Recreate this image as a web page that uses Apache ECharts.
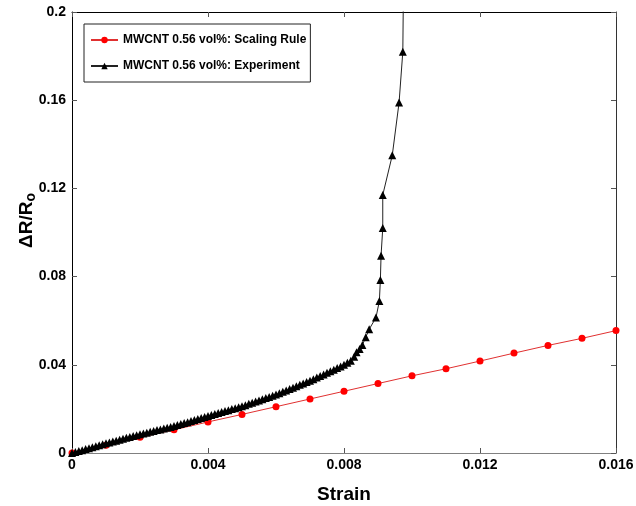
<!DOCTYPE html>
<html><head><meta charset="utf-8">
<script src="https://cdn.jsdelivr.net/npm/echarts@6/dist/echarts.min.js"></script>
<style>html,body{margin:0;padding:0;background:#fff}#c{width:636px;height:506px}</style>
</head><body><div id="c"></div>
<script>
const xTicks = ['0','0.004','0.008','0.012','0.016'];
const yTicks = ['0','0.04','0.08','0.12','0.16','0.2'];
const ruleStrain = [0,0.001,0.002,0.003,0.004,0.005,0.006,0.007,0.008,0.009,0.010,0.011,0.012,0.013,0.014,0.015,0.016];
const ruleDR = [0,0.0035,0.0071,0.0105,0.0141,0.0175,0.021,0.0245,0.028,0.0315,0.035,0.0382,0.0417,0.0453,0.0488,0.052,0.0555];
const expStrain = [0,0.0001,0.0002,0.0003,0.0004,0.0005,0.0006,0.0007,0.0008,0.0009,0.001,
0.0011,0.0012,0.0013,0.0014,0.0015,0.0016,0.0017,0.0018,0.0019,0.002,
0.0021,0.0022,0.0023,0.0024,0.0025,0.0026,0.0027,0.0028,0.0029,0.003,
0.0031,0.0032,0.0033,0.0034,0.0035,0.0036,0.0037,0.0038,0.0039,0.004,
0.0041,0.0042,0.0043,0.0044,0.0045,0.0046,0.0047,0.0048,0.0049,0.005,
0.0051,0.0052,0.0053,0.0054,0.0055,0.0056,0.0057,0.0058,0.0059,0.006,
0.0061,0.0062,0.0063,0.0064,0.0065,0.0066,0.0067,0.0068,0.0069,0.007,
0.0071,0.0072,0.0073,0.0074,0.0075,0.0076,0.0077,0.0078,0.0079,0.008,
0.0081,0.0082,0.0083,0.00837,0.00846,0.00854,0.00864,0.00874,0.00894,0.00904,0.00907,0.00909,0.00914,0.00914,0.00942,0.00962,0.00973,0.00978];
const expDR = [0,0.00044,0.0009,0.0013,0.0018,0.0022,0.0026,0.0031,0.0035,0.004,0.0044,
0.0048,0.0052,0.0056,0.006,0.0065,0.0069,0.0073,0.0077,0.0081,0.0085,
0.0089,0.0092,0.0096,0.01,0.0104,0.0107,0.0111,0.0115,0.0118,0.0122,
0.0127,0.0131,0.0136,0.014,0.0145,0.015,0.0154,0.0159,0.0163,0.0168,
0.0172,0.0177,0.0181,0.0186,0.019,0.0194,0.0199,0.0203,0.0208,0.0212,
0.0217,0.0223,0.0228,0.0233,0.0238,0.0244,0.0249,0.0254,0.026,0.0265,
0.0271,0.0278,0.0284,0.029,0.0296,0.0303,0.0309,0.0315,0.0322,0.0328,
0.0335,0.0342,0.0349,0.0356,0.0364,0.0371,0.0378,0.0385,0.0392,0.04,
0.0409,0.0418,0.0437,0.0457,0.0472,0.049,0.0525,0.0561,0.0614,0.0689,0.0785,0.0895,0.102,0.117,0.135,0.159,0.182,0.26];
const names = ['MWCNT 0.56 vol%: Scaling Rule','MWCNT 0.56 vol%: Experiment'];

const F = '"Liberation Sans", Arial, sans-serif';
const chart = echarts.init(document.getElementById('c'), null, {renderer:'canvas'});
const axBase = {
  axisTick:{inside:true,length:5,lineStyle:{color:'#555'}},
  splitLine:{show:false}
};
chart.setOption({
  animation:false,
  backgroundColor:'#fff',
  grid:{left:72,right:20,top:12,bottom:53,containLabel:false,outerBoundsMode:'none'},
  legend:{
    orient:'vertical', left:84, top:24, data:names,
    backgroundColor:'#fff', borderColor:'#222', borderWidth:1,
    padding:[10,4,10,6], itemGap:14, itemWidth:27, itemHeight:8,
    textStyle:{fontFamily:F,fontWeight:'bold',fontSize:12,color:'#000'}
  },
  xAxis:[{
    type:'value', min:0, max:0.016, interval:0.004, position:'bottom',
    name:'Strain', nameLocation:'middle', nameGap:32, nameMoveOverlap:false,
    nameTextStyle:{fontFamily:F,fontWeight:'bold',fontSize:19,color:'#000'},
    axisLine:{show:true,onZero:false,lineStyle:{color:'#808080',width:1}},
    axisLabel:{fontFamily:F,fontWeight:'bold',fontSize:14,color:'#000',margin:5,
      showMinLabel:true,showMaxLabel:true,formatter:(v)=>xTicks[Math.round(v/0.004)]},
    ...axBase
  },{
    type:'value', min:0, max:0.016, interval:0.004, position:'top',
    axisLine:{show:true,onZero:false,lineStyle:{color:'#000',width:1}},
    axisLabel:{show:false}, ...axBase
  }],
  yAxis:[{
    type:'value', min:0, max:0.2, interval:0.04, position:'left',
    name:'ΔR/R{sub|o}', nameLocation:'middle', nameGap:34, nameRotate:90, nameMoveOverlap:false,
    nameTextStyle:{fontFamily:F,fontWeight:'bold',fontSize:19,color:'#000',padding:[0,0,0,24],
      rich:{sub:{fontFamily:F,fontWeight:'bold',fontSize:14,color:'#000',verticalAlign:'bottom',padding:[9,0,0,0]}}},
    axisLine:{show:true,onZero:false,lineStyle:{color:'#000',width:1}},
    axisLabel:{fontFamily:F,fontWeight:'bold',fontSize:14,color:'#000',margin:6,
      showMinLabel:true,showMaxLabel:true,formatter:(v)=>yTicks[Math.round(v/0.04)]},
    ...axBase
  },{
    type:'value', min:0, max:0.2, interval:0.04, position:'right',
    axisLine:{show:true,onZero:false,lineStyle:{color:'#333',width:1}},
    axisLabel:{show:false}, ...axBase
  }],
  series:[{
    name:names[0], type:'line', xAxisIndex:0, yAxisIndex:0,
    data: ruleStrain.map((s,i)=>[s,ruleDR[i]]),
    symbol:'circle', symbolSize:7, showAllSymbol:true, clip:true,
    lineStyle:{color:'#e03030',width:1}, itemStyle:{color:'#ff0000'}, z:2
  },{
    name:names[1], type:'line', xAxisIndex:0, yAxisIndex:0,
    data: expStrain.map((s,i)=>[s,expDR[i]]),
    symbol:'triangle', symbolSize:8, showAllSymbol:true, clip:true,
    lineStyle:{color:'#222',width:1}, itemStyle:{color:'#000'}, z:3
  }]
});
</script></body></html>
